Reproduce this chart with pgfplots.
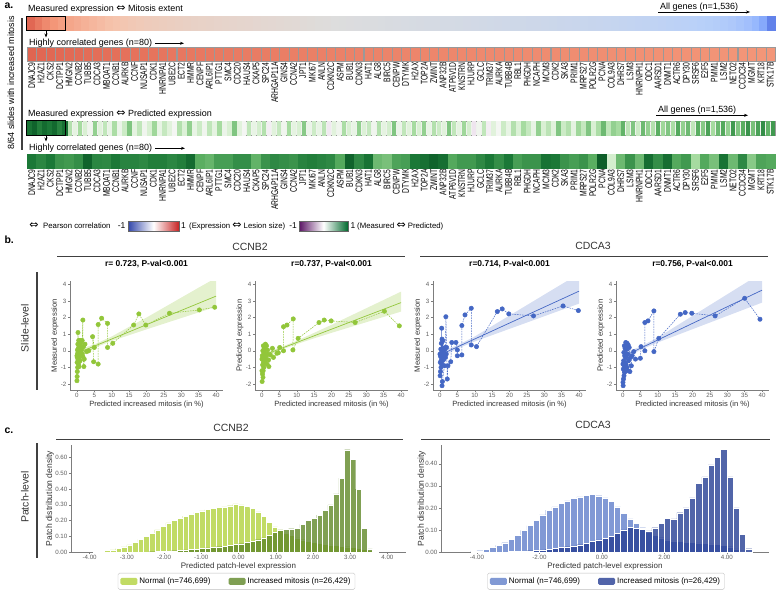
\documentclass[border=0pt]{standalone}
\usepackage{pgfplots}
\pgfplotsset{compat=1.18}
\usepackage{fontspec}
\setmainfont{Liberation Sans}
\newfontfamily\dejavu{DejaVu Sans}
\usetikzlibrary{arrows.meta}

\newcommand{\fs}[1]{\fontsize{#1}{#1}\selectfont}
\newcommand{\lr}{{\dejavu\fontsize{11}{11}\selectfont ⇔}}

\definecolor{sgreen}{RGB}{146,198,58}
\definecolor{sblue}{RGB}{68,103,196}
\definecolor{hlgreen}{RGB}{178,210,62}
\definecolor{hdgreen}{RGB}{96,136,40}
\definecolor{hlblue}{RGB}{98,128,202}
\definecolor{hdblue}{RGB}{38,62,148}
\definecolor{axgray}{RGB}{125,125,125}
\definecolor{txtgray}{RGB}{95,95,95}
\definecolor{cwblue}{RGB}{50,70,170}
\definecolor{cwred}{RGB}{200,35,35}
\definecolor{prpurple}{RGB}{90,20,100}
\definecolor{prgreen}{RGB}{0,105,45}
\definecolor{barbg}{RGB}{238,243,236}

\pgfplotsset{
  colormap={coolwarm}{rgb255=(59,76,192) rgb255=(98,130,234) rgb255=(141,176,254) rgb255=(184,208,249) rgb255=(221,221,221) rgb255=(245,196,173) rgb255=(244,152,122) rgb255=(222,96,77) rgb255=(180,4,38)},
  colormap={prgn}{rgb255=(64,0,75) rgb255=(118,42,131) rgb255=(153,112,171) rgb255=(194,165,207) rgb255=(231,212,232) rgb255=(247,247,247) rgb255=(217,240,211) rgb255=(166,219,160) rgb255=(90,174,97) rgb255=(27,120,55) rgb255=(0,68,27)},
  barrow/.style={scale only axis, width=748bp, height=14bp, anchor=south west,
    xmin=-0.5, ymin=-0.5, ymax=0.5, ytick=\empty, xtick=\empty, axis on top,
    axis line style={black!40, line width=0.4pt},
    point meta min=-1, point meta max=1},
  genes/.style={xtick={0,...,79}, major tick length=0pt,
    xticklabel style={font=\fs{9.7}, rotate=90, anchor=east, xscale=0.7, inner sep=1.2pt},
    xticklabels={DNAJC9,H2AZ1,CKS2,DCTPP1,HMGN2,CCNB2,TUBB5,CDCA3,MBOAT1,CCNB1,AURKB,CCNF,NUSAP1,CDK1,HNRNPA1,UBE2C,ECT2,HMMR,CENPF,ARL6IP1,PTTG1,SMC4,CDC20,HAUS4,CKAP5,SPC24,ARHGAP11A,GINS4,CCNA2,JPT1,MKI67,ANLN,CDKN2C,ASPM,BUB1,CDKN3,HAT1,ALG8,BIRC5,CENPW,DTYMK,H2AX,TOP2A,ZWINT,ANP32B,ATP6V1D,KNSTRN,HJURP,GCLC,TRIM37,AURKA,TUBB4B,RBL1,PHGDH,NCAPH,MCM3,CDK2,SKA3,PRIM1,MRPS27,POLR2G,PCNA,COL9A3,DHRS7,LSM3,HNRNPH1,ODC1,AARSD1,DNMT1,ACTR6,DPY30,SRSF6,E2F5,PMM1,LSM2,NETO2,CCDC34,MGMT,KRT18,STK17B}},
  cellmarks/.style={scatter, only marks, mark=square*, mark size=7pt, point meta=explicit,
    scatter/use mapped color={draw=mapped color, fill=mapped color},
    mark options={xscale=#1, line width=0.2pt}},
  sc/.style={scale only axis, width=153bp, height=109bp, anchor=south west,
    xmin=-2, xmax=42, ymin=-2.36, ymax=4.2,
    axis lines=left, axis line style={-, draw=axgray, line width=0.5pt},
    xtick={0,5,...,40}, ytick={-2,-1,0,1,2,3,4},
    tick align=outside, major tick length=2pt, tick style={draw=axgray, line width=0.4pt},
    tick label style={font=\fs{6.2}, text=txtgray},
    xticklabel style={inner sep=1pt}, yticklabel style={inner sep=1.5pt},
    /pgf/number format/assume math mode=true,
    every axis x label/.style={at={(axis description cs:0.5,-0.135)}, anchor=center, font=\fs{7.6}, text=black!80},
    every axis y label/.style={at={(axis description cs:-0.098,0.5)}, anchor=center, rotate=90, font=\fs{7.7}, text=black!80},
    every axis title/.style={at={(axis description cs:0.5,1)}, anchor=base, yshift=15bp, font=\bfseries\fs{8.5}},
    xlabel={Predicted increased mitosis (in \%)}},
  hs/.style={scale only axis, height=107bp, anchor=south west, ymin=0,
    axis lines=left, axis line style={-, draw=axgray, line width=0.5pt},
    tick align=outside, major tick length=2pt, tick style={draw=axgray, line width=0.4pt},
    tick label style={font=\fs{6.2}, text=txtgray},
    xticklabel style={inner sep=1pt, /pgf/number format/.cd, fixed, fixed zerofill, precision=2},
    yticklabel style={inner sep=1.5pt, /pgf/number format/.cd, fixed, fixed zerofill, precision=2},
    /pgf/number format/assume math mode=true,
    every axis x label/.style={at={(axis description cs:0.5,-0.131)}, anchor=center, font=\fs{8}, text=black!80},
    xlabel={Predicted patch-level expression}, ylabel={Patch distribution density},
    legend columns=2,
    legend style={anchor=north, draw=black!25, rounded corners=1.5pt, font=\fs{8}, inner sep=2.5pt,
      /tikz/every even column/.append style={column sep=16bp}},
    legend image code/.code={\fill[#1, draw=none] (0bp,-3.5bp) rectangle (17bp,3.5bp);}},
  hbar/.style={ybar interval, fill=#1, fill opacity=0.8, draw=white, line width=0.3pt}
}

\begin{document}
\begin{tikzpicture}
\useasboundingbox (0,0) rectangle (780bp,-592bp);

% ---------------- panel a ----------------
\node[anchor=west, font=\bfseries\fs{10.5}] at (1bp,-6bp) {a.};
\node[rotate=90, font=\fs{9}] at (11bp,-83bp) {8/64 slides with increased mitosis};
\draw[black!75, line width=1.3pt] (22bp,-18bp) -- (22bp,-150bp);

\node[anchor=west, font=\fs{9}, inner sep=1pt] at (27bp,-9.3bp) {Measured expression \lr{} Mitosis extent};
\node[anchor=base west, font=\fs{9}, inner sep=0pt] at (660bp,-9.5bp) {All genes (n=1,536)};
\draw[-{Stealth[length=4pt]}, line width=0.6pt] (658bp,-12bp) -- (750bp,-12bp);

% all genes, sorted by correlation with the mitosis extent
\begin{axis}[barrow, at={(27bp,-30bp)}, xmax=95.5, colormap name=coolwarm]
\addplot[cellmarks=0.5566] coordinates {
(0,0)[0.72] (1,0)[0.64] (2,0)[0.57] (3,0)[0.51] (4,0)[0.46] (5,0)[0.42] (6,0)[0.39] (7,0)[0.36] (8,0)[0.33] (9,0)[0.30]
(10,0)[0.27] (11,0)[0.25] (12,0)[0.23] (13,0)[0.21] (14,0)[0.195] (15,0)[0.18] (16,0)[0.17] (17,0)[0.16] (18,0)[0.15] (19,0)[0.14]
(20,0)[0.13] (21,0)[0.12] (22,0)[0.115] (23,0)[0.11] (24,0)[0.10] (25,0)[0.095] (26,0)[0.09] (27,0)[0.085] (28,0)[0.08] (29,0)[0.07]
(30,0)[0.065] (31,0)[0.06] (32,0)[0.05] (33,0)[0.045] (34,0)[0.04] (35,0)[0.03] (36,0)[0.025] (37,0)[0.015] (38,0)[0.01] (39,0)[0.0]
(40,0)[-0.004] (41,0)[-0.009] (42,0)[-0.013] (43,0)[-0.017] (44,0)[-0.021] (45,0)[-0.026] (46,0)[-0.03] (47,0)[-0.034] (48,0)[-0.043] (49,0)[-0.045]
(50,0)[-0.048] (51,0)[-0.051] (52,0)[-0.055] (53,0)[-0.06] (54,0)[-0.062] (55,0)[-0.065] (56,0)[-0.068] (57,0)[-0.077] (58,0)[-0.081] (59,0)[-0.085]
(60,0)[-0.089] (61,0)[-0.094] (62,0)[-0.098] (63,0)[-0.102] (64,0)[-0.106] (65,0)[-0.11] (66,0)[-0.115] (67,0)[-0.119] (68,0)[-0.125] (69,0)[-0.13]
(70,0)[-0.136] (71,0)[-0.14] (72,0)[-0.145] (73,0)[-0.15] (74,0)[-0.156] (75,0)[-0.162] (76,0)[-0.17] (77,0)[-0.177] (78,0)[-0.184] (79,0)[-0.19]
(80,0)[-0.197] (81,0)[-0.204] (82,0)[-0.213] (83,0)[-0.221] (84,0)[-0.23] (85,0)[-0.238] (86,0)[-0.247] (87,0)[-0.26] (88,0)[-0.272] (89,0)[-0.29]
(90,0)[-0.31] (91,0)[-0.34] (92,0)[-0.38] (93,0)[-0.44] (94,0)[-0.54] (95,0)[-0.75]};
\end{axis}
\draw[black, line width=1pt] (26.7bp,-16bp) rectangle (65bp,-30bp);
\draw[-{Stealth[length=4pt]}, line width=0.6pt] (46bp,-30bp) -- (46bp,-37.5bp);

\node[anchor=west, font=\fs{9}, inner sep=1pt] at (28bp,-42.7bp) {Highly correlated genes (n=80)};
\draw[-{Stealth[length=4pt]}, line width=0.6pt] (155bp,-43.3bp) -- (184bp,-43.3bp);

% top 80 genes
\begin{axis}[barrow, genes, at={(27bp,-61.5bp)}, xmax=79.5, colormap name=coolwarm]
\addplot[cellmarks=0.668, scatter/use mapped color={draw=black!40, fill=mapped color}] coordinates {
(0,0)[0.73] (1,0)[0.72] (2,0)[0.715] (3,0)[0.71] (4,0)[0.705] (5,0)[0.70] (6,0)[0.695] (7,0)[0.69] (8,0)[0.685] (9,0)[0.68]
(10,0)[0.675] (11,0)[0.67] (12,0)[0.665] (13,0)[0.66] (14,0)[0.655] (15,0)[0.65] (16,0)[0.648] (17,0)[0.645] (18,0)[0.642] (19,0)[0.64]
(20,0)[0.637] (21,0)[0.634] (22,0)[0.631] (23,0)[0.628] (24,0)[0.625] (25,0)[0.622] (26,0)[0.62] (27,0)[0.617] (28,0)[0.614] (29,0)[0.612]
(30,0)[0.61] (31,0)[0.607] (32,0)[0.604] (33,0)[0.602] (34,0)[0.60] (35,0)[0.597] (36,0)[0.595] (37,0)[0.593] (38,0)[0.59] (39,0)[0.588]
(40,0)[0.586] (41,0)[0.584] (42,0)[0.582] (43,0)[0.58] (44,0)[0.578] (45,0)[0.576] (46,0)[0.574] (47,0)[0.572] (48,0)[0.57] (49,0)[0.568]
(50,0)[0.566] (51,0)[0.564] (52,0)[0.562] (53,0)[0.56] (54,0)[0.558] (55,0)[0.556] (56,0)[0.554] (57,0)[0.552] (58,0)[0.55] (59,0)[0.548]
(60,0)[0.546] (61,0)[0.544] (62,0)[0.542] (63,0)[0.54] (64,0)[0.538] (65,0)[0.536] (66,0)[0.534] (67,0)[0.532] (68,0)[0.53] (69,0)[0.528]
(70,0)[0.526] (71,0)[0.524] (72,0)[0.522] (73,0)[0.52] (74,0)[0.518] (75,0)[0.516] (76,0)[0.514] (77,0)[0.512] (78,0)[0.51] (79,0)[0.508]};
\end{axis}

\node[anchor=west, font=\fs{9}, inner sep=1pt] at (27bp,-114bp) {Measured expression \lr{} Predicted expression};
\node[anchor=base west, font=\fs{9}, inner sep=0pt] at (658bp,-112.5bp) {All genes (n=1,536)};
\draw[-{Stealth[length=4pt]}, line width=0.6pt] (656bp,-115.3bp) -- (748bp,-115.3bp);

% all genes, measured vs predicted
\begin{axis}[barrow, at={(27bp,-135bp)}, xmax=149.5, colormap name=prgn, axis background/.style={fill=barbg}]
\addplot[cellmarks=0.3562] coordinates {
(0,0)[0.82] (1,0)[0.88] (2,0)[0.78] (3,0)[0.85] (4,0)[0.80] (5,0)[0.86] (6,0)[0.76] (7,0)[0.83]};
\addplot[cellmarks=0.24] coordinates {
(8,0)[0.35] (9,0)[0.12] (10,0)[0.40] (11,0)[0.20] (12,0)[0.05] (13,0)[0.45] (14,0)[0.15] (15,0)[0.30] (16,0)[0.10] (17,0)[0.38]
(18,0)[0.08] (19,0)[0.25] (20,0)[0.50] (21,0)[0.12] (22,0)[0.30] (23,0)[0.05] (24,0)[0.20] (25,0)[0.42] (26,0)[0.10] (27,0)[0.28]
(28,0)[0.15] (29,0)[0.02] (30,0)[0.35] (31,0)[0.18] (32,0)[0.45] (33,0)[0.10] (34,0)[0.25] (35,0)[0.05] (36,0)[0.30] (37,0)[0.12]
(38,0)[0.40] (39,0)[0.08] (40,0)[0.20] (41,0)[0.50] (42,0)[0.15] (43,0)[0.02] (44,0)[0.30] (45,0)[0.10] (46,0)[0.22] (47,0)[0.35]
(48,0)[-0.05] (49,0)[0.15] (50,0)[0.28] (51,0)[0.05] (52,0)[0.40] (53,0)[0.12] (54,0)[0.20] (55,0)[0.48] (56,0)[0.08] (57,0)[0.25]
(58,0)[0.10] (59,0)[0.32] (60,0)[-0.08] (61,0)[0.15] (62,0)[0.05] (63,0)[0.38] (64,0)[0.20] (65,0)[0.10] (66,0)[0.45] (67,0)[0.18]
(68,0)[0.28] (69,0)[0.05] (70,0)[0.35] (71,0)[0.12] (72,0)[0.22] (73,0)[0.50] (74,0)[0.08] (75,0)[0.30] (76,0)[0.15] (77,0)[0.40]
(78,0)[0.20] (79,0)[0.45] (80,0)[0.10] (81,0)[0.35] (82,0)[0.25] (83,0)[0.15] (84,0)[0.50] (85,0)[0.30] (86,0)[0.12] (87,0)[0.42]
(88,0)[0.22] (89,0)[-0.10] (90,0)[0.05] (91,0)[0.30] (92,0)[-0.05] (93,0)[0.15] (94,0)[0.02] (95,0)[0.25] (96,0)[0.10] (97,0)[0.35]
(98,0)[0.18] (99,0)[0.40] (100,0)[0.28] (101,0)[0.10] (102,0)[0.45] (103,0)[0.20] (104,0)[0.32] (105,0)[0.15] (106,0)[0.50] (107,0)[0.25]
(108,0)[0.35] (109,0)[0.12] (110,0)[0.42] (111,0)[0.28] (112,0)[0.50] (113,0)[0.20] (114,0)[0.38] (115,0)[0.55] (116,0)[0.30] (117,0)[0.45]
(118,0)[0.40] (119,0)[0.58] (120,0)[0.32] (121,0)[0.50] (122,0)[0.25] (123,0)[0.55] (124,0)[0.45] (125,0)[0.35] (126,0)[0.60] (127,0)[0.42]
(128,0)[0.50] (129,0)[0.38] (130,0)[0.62] (131,0)[0.45] (132,0)[0.55] (133,0)[0.30] (134,0)[0.60] (135,0)[0.48] (136,0)[0.65] (137,0)[0.40]
(138,0)[0.55] (139,0)[0.62] (140,0)[0.45] (141,0)[0.68] (142,0)[0.50] (143,0)[0.60] (144,0)[0.70] (145,0)[0.52] (146,0)[0.65] (147,0)[0.72]
(148,0)[0.58] (149,0)[0.68]};
\end{axis}
\draw[black, line width=1pt] (26.7bp,-120.5bp) rectangle (65bp,-135bp);
\draw[-{Stealth[length=4pt]}, line width=0.6pt] (46bp,-135bp) -- (46bp,-141.5bp);

\node[anchor=west, font=\fs{9}, inner sep=1pt] at (28bp,-148bp) {Highly correlated genes (n=80)};
\draw[-{Stealth[length=4pt]}, line width=0.6pt] (155bp,-148.3bp) -- (185bp,-148.3bp);

% top 80 genes, measured vs predicted
\begin{axis}[barrow, genes, at={(27bp,-168.5bp)}, xmax=79.5, colormap name=prgn]
\addplot[cellmarks=0.668] coordinates {
(0,0)[0.80] (1,0)[0.75] (2,0)[0.80] (3,0)[0.70] (4,0)[0.68] (5,0)[0.72] (6,0)[0.88] (7,0)[0.75] (8,0)[0.74] (9,0)[0.80]
(10,0)[0.76] (11,0)[0.76] (12,0)[0.74] (13,0)[0.78] (14,0)[0.78] (15,0)[0.75] (16,0)[0.78] (17,0)[0.85] (18,0)[0.60] (19,0)[0.57]
(20,0)[0.66] (21,0)[0.66] (22,0)[0.72] (23,0)[0.72] (24,0)[0.58] (25,0)[0.70] (26,0)[0.74] (27,0)[0.72] (28,0)[0.70] (29,0)[0.76]
(30,0)[0.78] (31,0)[0.76] (32,0)[0.74] (33,0)[0.62] (34,0)[0.88] (35,0)[0.74] (36,0)[0.82] (37,0)[0.55] (38,0)[0.52] (39,0)[0.64]
(40,0)[0.66] (41,0)[0.80] (42,0)[0.83] (43,0)[0.88] (44,0)[0.84] (45,0)[0.62] (46,0)[0.68] (47,0)[0.68] (48,0)[0.74] (49,0)[0.80]
(50,0)[0.72] (51,0)[0.80] (52,0)[0.66] (53,0)[0.70] (54,0)[0.70] (55,0)[0.82] (56,0)[0.80] (57,0)[0.70] (58,0)[0.66] (59,0)[0.70]
(60,0)[0.60] (61,0)[0.90] (62,0)[0.22] (63,0)[0.55] (64,0)[0.70] (65,0)[0.55] (66,0)[0.84] (67,0)[0.72] (68,0)[0.84] (69,0)[0.62]
(70,0)[0.68] (71,0)[0.40] (72,0)[0.62] (73,0)[0.52] (74,0)[0.82] (75,0)[0.55] (76,0)[0.74] (77,0)[0.48] (78,0)[0.64] (79,0)[0.62]};
\end{axis}

% colour keys
\node at (34bp,-226bp) {\lr};
\node[anchor=west, font=\fs{7.8}, inner sep=1pt] at (42bp,-226bp) {Pearson correlation};
\node[anchor=east, font=\fs{8.5}, inner sep=1pt] at (126.5bp,-226bp) {-1};
\shade[left color=cwblue, right color=cwred, middle color=white] (128bp,-221bp) rectangle (179bp,-231bp);
\draw[black!60, line width=0.4pt] (128bp,-221bp) rectangle (179bp,-231bp);
\node[anchor=west, font=\fs{8.5}, inner sep=1pt] at (180bp,-226bp) {1};
\node[anchor=west, font=\fs{7.8}, inner sep=1pt] at (188bp,-226bp) {(Expression \lr{} Lesion size)};
\node[anchor=east, font=\fs{8.5}, inner sep=1pt] at (298bp,-226bp) {-1};
\shade[left color=prpurple, right color=prgreen, middle color=white] (299bp,-221bp) rectangle (348bp,-231bp);
\draw[black!60, line width=0.4pt] (299bp,-221bp) rectangle (348bp,-231bp);
\node[anchor=west, font=\fs{8.5}, inner sep=1pt] at (349.5bp,-226bp) {1};
\node[anchor=west, font=\fs{7.8}, inner sep=1pt] at (356bp,-226bp) {(Measured \lr{} Predicted)};

% ---------------- panel b ----------------
\node[anchor=west, font=\bfseries\fs{10.5}] at (1bp,-240bp) {b.};
\node[font=\fs{10.5}, text=black!80] at (250bp,-247bp) {CCNB2};
\draw[black!75, line width=0.8pt] (57bp,-256bp) -- (405bp,-256bp);
\node[font=\fs{10.5}, text=black!80] at (593bp,-246bp) {CDCA3};
\draw[black!75, line width=0.8pt] (420bp,-256bp) -- (768bp,-256bp);
\node[rotate=90, font=\fs{10.5}, text=black!80] at (25bp,-328bp) {Slide-level};
\draw[black!75, line width=1.3pt] (37bp,-272bp) -- (37bp,-390bp);

\begin{axis}[sc, at={(70bp,-390bp)}, title={r= 0.723, P-val<0.001}, ylabel={Measured expression}]
\addplot[draw=none, fill=sgreen, fill opacity=0.25] coordinates {
  (0,0.05) (5,0.38) (10,0.86) (15,1.44) (20,2.0) (25,2.6) (30,3.2) (35,3.8) (40,4.39)
  (40,2.65) (35,2.31) (30,1.97) (25,1.63) (20,1.29) (15,0.94) (10,0.59) (5,0.18) (0,-0.35)} -- cycle;
\addplot[sgreen, line width=0.7pt] coordinates {(0,-0.15) (40,3.29)};
\addplot[sgreen, line width=0.5pt, dash pattern=on 1.6pt off 1pt, mark=*, mark size=2.2pt,
  mark options={solid, fill=sgreen, draw=sgreen}] coordinates {
  (39.6,2.62) (35.2,2.46) (26.6,2.26) (19.8,1.55) (17.8,2.22) (16.3,1.55) (10.3,0.45)
  (8.8,0.2) (8.8,1.65) (7.1,1.96) (6.1,1.58) (6.1,-0.8) (4.8,-0.66) (4.5,0.85) (5.0,0.2)
  (3.4,0.0) (2.8,-0.05) (2.3,0.4) (2.1,-0.5) (2.0,-0.95) (1.7,-0.35) (1.7,1.85) (1.5,0.62)
  (1.3,0.1) (1.2,0.6) (1.1,-0.3) (1.0,0.45) (0.9,-0.6) (0.8,0.62) (0.7,-0.1) (0.6,0.3)
  (0.55,-0.45) (0.5,0.62) (0.45,-0.8) (0.4,0.15) (0.35,-0.25) (0.3,1.1) (0.3,-0.55)
  (0.25,0.4) (0.2,-0.15) (0.2,-1.0) (0.15,0.05) (0.1,-1.25) (0.1,-0.4) (0.05,-1.55)
  (0.05,-0.7) (0.0,-1.8) (0.0,-0.3) (0.6,-0.95) (0.9,0.2) (1.4,-0.15) (1.8,0.25) (0.75,-0.35)};
\end{axis}

\begin{axis}[sc, at={(255bp,-390bp)}, title={r=0.737, P-val<0.001}, ylabel={Predicted expression}]
\addplot[draw=none, fill=sgreen, fill opacity=0.25] coordinates {
  (0,-0.15) (5,0.18) (10,0.6) (15,1.08) (20,1.56) (25,2.06) (30,2.56) (35,3.06) (40,3.56)
  (40,2.36) (35,2.04) (30,1.72) (25,1.4) (20,1.08) (15,0.75) (10,0.4) (5,0.02) (0,-0.45)} -- cycle;
\addplot[sgreen, line width=0.7pt] coordinates {(0,-0.3) (40,2.9)};
\addplot[sgreen, line width=0.5pt, dash pattern=on 1.6pt off 1pt, mark=*, mark size=2.2pt,
  mark options={solid, fill=sgreen, draw=sgreen}] coordinates {
  (39.5,1.5) (35.2,2.38) (26.8,1.7) (19.9,1.8) (17.9,1.85) (16.4,1.7) (10.4,0.75) (8.9,0.05)
  (9.0,1.92) (7.2,1.55) (6.2,1.45) (6.2,0.0) (4.7,-0.12) (5.1,0.2) (4.3,-0.15) (3.3,-0.4)
  (3.0,0.15) (2.4,-0.25) (2.0,-0.95) (1.9,-0.55) (1.6,0.05) (1.4,-0.8) (1.3,0.3) (1.1,-0.3)
  (1.0,0.4) (0.9,-0.7) (0.8,0.25) (0.7,-0.45) (0.6,0.1) (0.55,-1.0) (0.5,-0.2) (0.4,0.3)
  (0.35,-1.2) (0.3,-0.5) (0.25,0.0) (0.2,-0.85) (0.15,-1.4) (0.1,-0.3) (0.05,-1.85)
  (0.0,-0.5) (0.0,-1.2) (0.3,-1.6) (0.7,-0.15) (1.2,-0.5) (1.7,-0.2) (0.45,-0.7)};
\end{axis}

\begin{axis}[sc, at={(433bp,-390bp)}, title={r=0.714, P-val<0.001}, ylabel={Measured expression}]
\addplot[draw=none, fill=sblue, fill opacity=0.22] coordinates {
  (0,-0.05) (5,0.33) (10,0.86) (15,1.49) (20,2.12) (25,2.75) (30,3.38) (35,4.01) (40,4.64)
  (40,2.84) (35,2.46) (30,2.08) (25,1.7) (20,1.32) (15,0.94) (10,0.56) (5,0.13) (0,-0.45)} -- cycle;
\addplot[sblue, line width=0.7pt] coordinates {(0,-0.25) (40,3.59)};
\addplot[sblue, line width=0.5pt, dash pattern=on 1.6pt off 1pt, mark=*, mark size=2.2pt,
  mark options={solid, fill=sblue, draw=sblue}] coordinates {
  (39.8,2.42) (35.4,2.7) (26.9,2.1) (19.8,2.22) (17.9,2.52) (16.5,2.36) (10.5,0.25) (9.0,0.35)
  (9.0,2.56) (7.2,2.16) (6.3,1.52) (6.3,-0.25) (5.0,-0.3) (5.0,0.05) (4.6,0.5) (3.4,0.5)
  (3.1,-0.66) (2.3,-0.9) (2.1,-1.7) (1.9,0.2) (1.7,2.05) (1.6,-0.4) (1.4,0.1) (1.2,-0.3)
  (1.1,0.15) (1.0,-0.55) (0.9,0.0) (0.8,0.6) (0.7,-0.2) (0.6,0.7) (0.55,-0.8) (0.5,1.36)
  (0.45,-0.1) (0.4,0.45) (0.35,-0.6) (0.3,-1.0) (0.25,0.1) (0.2,-0.35) (0.15,-1.25)
  (0.1,-0.7) (0.05,-1.5) (0.0,-0.2) (0.6,-2.1) (0.7,-1.85) (1.3,-0.9) (0.9,-0.4) (1.8,-0.2) (1.5,0.2)};
\end{axis}

\begin{axis}[sc, at={(616bp,-390bp)}, title={r=0.756, P-val<0.001}, ylabel={Predicted expression}]
\addplot[draw=none, fill=sblue, fill opacity=0.22] coordinates {
  (0,-0.15) (5,0.25) (10,0.8) (15,1.45) (20,2.1) (25,2.75) (30,3.4) (35,4.05) (40,4.7)
  (40,2.9) (35,2.5) (30,2.1) (25,1.7) (20,1.3) (15,0.9) (10,0.5) (5,0.05) (0,-0.55)} -- cycle;
\addplot[sblue, line width=0.7pt] coordinates {(0,-0.35) (40,3.65)};
\addplot[sblue, line width=0.5pt, dash pattern=on 1.6pt off 1pt, mark=*, mark size=2.2pt,
  mark options={solid, fill=sblue, draw=sblue}] coordinates {
  (39.4,1.9) (35.0,3.16) (26.5,2.1) (19.8,2.26) (17.9,2.3) (16.5,2.2) (10.3,0.75) (8.9,-0.05)
  (8.9,2.4) (7.2,1.8) (6.3,1.7) (6.3,0.0) (5.2,0.25) (5.0,-0.45) (3.6,-0.5) (3.1,-0.05)
  (2.6,-0.3) (2.4,-0.9) (2.0,-1.25) (1.8,0.2) (1.6,-0.6) (1.5,0.35) (1.3,-0.2) (1.2,0.45)
  (1.1,-1.0) (1.0,0.1) (0.9,-0.4) (0.8,0.5) (0.7,-0.75) (0.6,0.15) (0.55,-1.25) (0.5,-0.3)
  (0.4,0.3) (0.35,-0.9) (0.3,-1.5) (0.25,-0.1) (0.2,-0.6) (0.15,-1.7) (0.1,-1.1) (0.05,-2.1)
  (0.0,-1.9) (0.0,-0.8) (0.45,-1.3) (0.9,-0.85) (1.4,-1.2) (2.2,-0.4)};
\end{axis}

% ---------------- panel c ----------------
\node[anchor=west, font=\bfseries\fs{10.5}] at (1bp,-431bp) {c.};
\node[font=\fs{10.5}, text=black!80] at (231bp,-428bp) {CCNB2};
\draw[black!75, line width=0.8pt] (56bp,-439bp) -- (403bp,-439bp);
\node[font=\fs{10.5}, text=black!80] at (593bp,-425bp) {CDCA3};
\draw[black!75, line width=0.8pt] (421bp,-439bp) -- (770bp,-439bp);
\node[rotate=90, font=\fs{10.5}, text=black!80] at (25bp,-497bp) {Patch-level};
\draw[black!75, line width=1.3pt] (37bp,-443bp) -- (37bp,-558bp);

\begin{axis}[hs, at={(71bp,-552bp)}, width=335bp, xmin=-4.5, xmax=4.5, ymax=0.68,
  xtick={-4,-3,-2,-1,0,1,2,3,4}, ytick={0,0.1,0.2,0.3,0.4,0.5,0.6},
  every axis y label/.style={at={(axis description cs:-0.063,0.5)}, anchor=center, rotate=90, font=\fs{8.6}, text=black!80},
  legend style={at={(axis description cs:0.494,-0.196)}}]
\addplot[hbar=hlgreen] coordinates {
(-3.90,0.003) (-3.75,0.005) (-3.60,0.009) (-3.45,0.014) (-3.30,0.022) (-3.15,0.032)
(-3.00,0.045) (-2.85,0.06) (-2.70,0.08) (-2.55,0.10) (-2.40,0.12) (-2.25,0.14)
(-2.10,0.165) (-1.95,0.185) (-1.80,0.20) (-1.65,0.215) (-1.50,0.228) (-1.35,0.24)
(-1.20,0.252) (-1.05,0.262) (-0.90,0.27) (-0.75,0.277) (-0.60,0.282) (-0.45,0.287)
(-0.30,0.294) (-0.15,0.306) (0.00,0.30) (0.15,0.29) (0.30,0.277) (0.45,0.255)
(0.60,0.225) (0.75,0.19) (0.90,0.16) (1.05,0.14) (1.20,0.12) (1.35,0.105)
(1.50,0.09) (1.65,0.078) (1.80,0.068) (1.95,0.06) (2.10,0.054) (2.25,0.05)
(2.40,0.046) (2.55,0.042) (2.70,0.038) (2.85,0.034) (3.00,0.03) (3.15,0.025)
(3.30,0.018) (3.45,0.01) (3.60,0.004) (3.75,0.004)};
\addlegendentry{Normal (n=746,699)}
\addplot[hbar=hdgreen] coordinates {
(-2.40,0.002) (-2.25,0.003) (-2.10,0.004) (-1.95,0.006) (-1.80,0.008) (-1.65,0.01)
(-1.50,0.013) (-1.35,0.016) (-1.20,0.019) (-1.05,0.022) (-0.90,0.026) (-0.75,0.03)
(-0.60,0.034) (-0.45,0.038) (-0.30,0.043) (-0.15,0.048) (0.00,0.053) (0.15,0.06)
(0.30,0.068) (0.45,0.078) (0.60,0.09) (0.75,0.105) (0.90,0.125) (1.05,0.14)
(1.20,0.145) (1.35,0.148) (1.50,0.15) (1.65,0.175) (1.80,0.20) (1.95,0.215)
(2.10,0.235) (2.25,0.265) (2.40,0.30) (2.55,0.37) (2.70,0.47) (2.85,0.65)
(3.00,0.59) (3.15,0.40) (3.30,0.15) (3.45,0.02) (3.60,0.02)};
\addlegendentry{Increased mitosis (n=26,429)}
\end{axis}

\begin{axis}[hs, at={(441bp,-552bp)}, width=328bp, xmin=-5.15, xmax=5.35, ymax=0.485,
  xtick={-4,-2,0,2,4}, ytick={0,0.1,0.2,0.3,0.4},
  every axis y label/.style={at={(axis description cs:-0.059,0.5)}, anchor=center, rotate=90, font=\fs{8.6}, text=black!80},
  legend style={at={(axis description cs:0.503,-0.196)}}]
\addplot[hbar=hlblue] coordinates {
(-4.2,0.003) (-4.0,0.006) (-3.8,0.012) (-3.6,0.02) (-3.4,0.03) (-3.2,0.042)
(-3.0,0.057) (-2.8,0.075) (-2.6,0.098) (-2.4,0.12) (-2.2,0.145) (-2.0,0.168)
(-1.8,0.19) (-1.6,0.205) (-1.4,0.22) (-1.2,0.232) (-1.0,0.242) (-0.8,0.25)
(-0.6,0.257) (-0.4,0.26) (-0.2,0.255) (0.0,0.245) (0.2,0.23) (0.4,0.205)
(0.6,0.175) (0.8,0.15) (1.0,0.13) (1.2,0.11) (1.4,0.09) (1.6,0.075)
(1.8,0.065) (2.0,0.055) (2.2,0.05) (2.4,0.047) (2.6,0.045) (2.8,0.043)
(3.0,0.041) (3.2,0.039) (3.4,0.037) (3.6,0.035) (3.8,0.03) (4.0,0.024)
(4.2,0.014) (4.4,0.006) (4.6,0.006)};
\addlegendentry{Normal (n=746,699)}
\addplot[hbar=hdblue] coordinates {
(-3.0,0.002) (-2.8,0.003) (-2.6,0.004) (-2.4,0.006) (-2.2,0.008) (-2.0,0.01)
(-1.8,0.013) (-1.6,0.016) (-1.4,0.02) (-1.2,0.024) (-1.0,0.028) (-0.8,0.033)
(-0.6,0.04) (-0.4,0.047) (-0.2,0.055) (0.0,0.062) (0.2,0.07) (0.4,0.085)
(0.6,0.10) (0.8,0.112) (1.0,0.108) (1.2,0.102) (1.4,0.096) (1.6,0.11)
(1.8,0.13) (2.0,0.152) (2.2,0.15) (2.4,0.178) (2.6,0.20) (2.8,0.245)
(3.0,0.31) (3.2,0.34) (3.4,0.395) (3.6,0.43) (3.8,0.465) (4.0,0.34)
(4.2,0.20) (4.4,0.08) (4.6,0.015) (4.8,0.015)};
\addlegendentry{Increased mitosis (n=26,429)}
\end{axis}

\end{tikzpicture}
\end{document}
